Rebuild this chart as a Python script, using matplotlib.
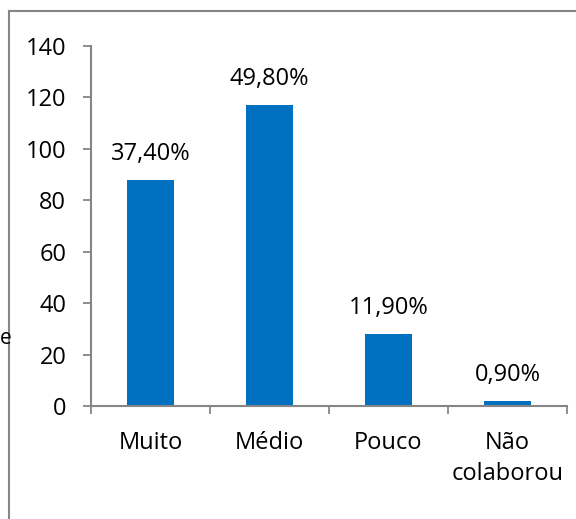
import matplotlib.pyplot as plt
from matplotlib.lines import Line2D
import numpy as np

categories = ['Muito', 'Médio', 'Pouco', 'Não\ncolaborou']
values = [88, 117, 28, 2]
labels = ['37,40%', '49,80%', '11,90%', '0,90%']

plt.rcParams['font.family'] = ['Open Sans', 'DejaVu Sans']
W, H = 576, 519
fs = 17
fig = plt.figure(figsize=(W / 100, H / 100), dpi=100)
ax = fig.add_axes([91 / W, 1 - 406 / H, (567 - 91) / W, (406 - 46) / H])

grey = '#868686'
x = np.arange(len(categories))
ax.bar(x, values, width=0.4, color='#0070C0')
for xi, v, lab in zip(x, values, labels):
    ax.annotate(lab, (xi, v), xytext=(0, 14.4), textcoords='offset points',
                ha='center', va='baseline', fontsize=fs)

ax.set_xlim(-0.5, len(categories) - 0.5)
ax.set_ylim(0, 140)
ax.set_yticks(range(0, 141, 20))
ax.tick_params(axis='y', direction='out', length=5.8, width=1.3, color=grey,
               labelsize=fs, pad=12)
ax.set_xticks(np.arange(-0.5, len(categories), 1.0))
ax.set_xticklabels([])
ax.tick_params(axis='x', direction='out', length=5.8, width=1.3, color=grey)
# category labels, one line at a time
for xi, c in zip(x, categories):
    for i, line in enumerate(c.split('\n')):
        ax.annotate(line, (xi, 0), xycoords=('data', 'axes fraction'),
                    xytext=(0, -31 - 22.3 * i), textcoords='offset points',
                    ha='center', va='baseline', fontsize=fs)

for s in ['top', 'right']:
    ax.spines[s].set_visible(False)
for s in ['left', 'bottom']:
    ax.spines[s].set_color(grey)
    ax.spines[s].set_linewidth(1.5)

# outer chart border (cropped on right and bottom)
fig.add_artist(Line2D([9 / W, 9 / W], [0, 1 - 11 / H], color=grey, lw=1.5))
fig.add_artist(Line2D([9 / W, 1], [1 - 11 / H, 1 - 11 / H], color=grey, lw=1.5))
fig.text(0, 1 - 339 / H, 'e', ha='left', va='center', fontsize=15)

fig.savefig('out.png', dpi=100)
